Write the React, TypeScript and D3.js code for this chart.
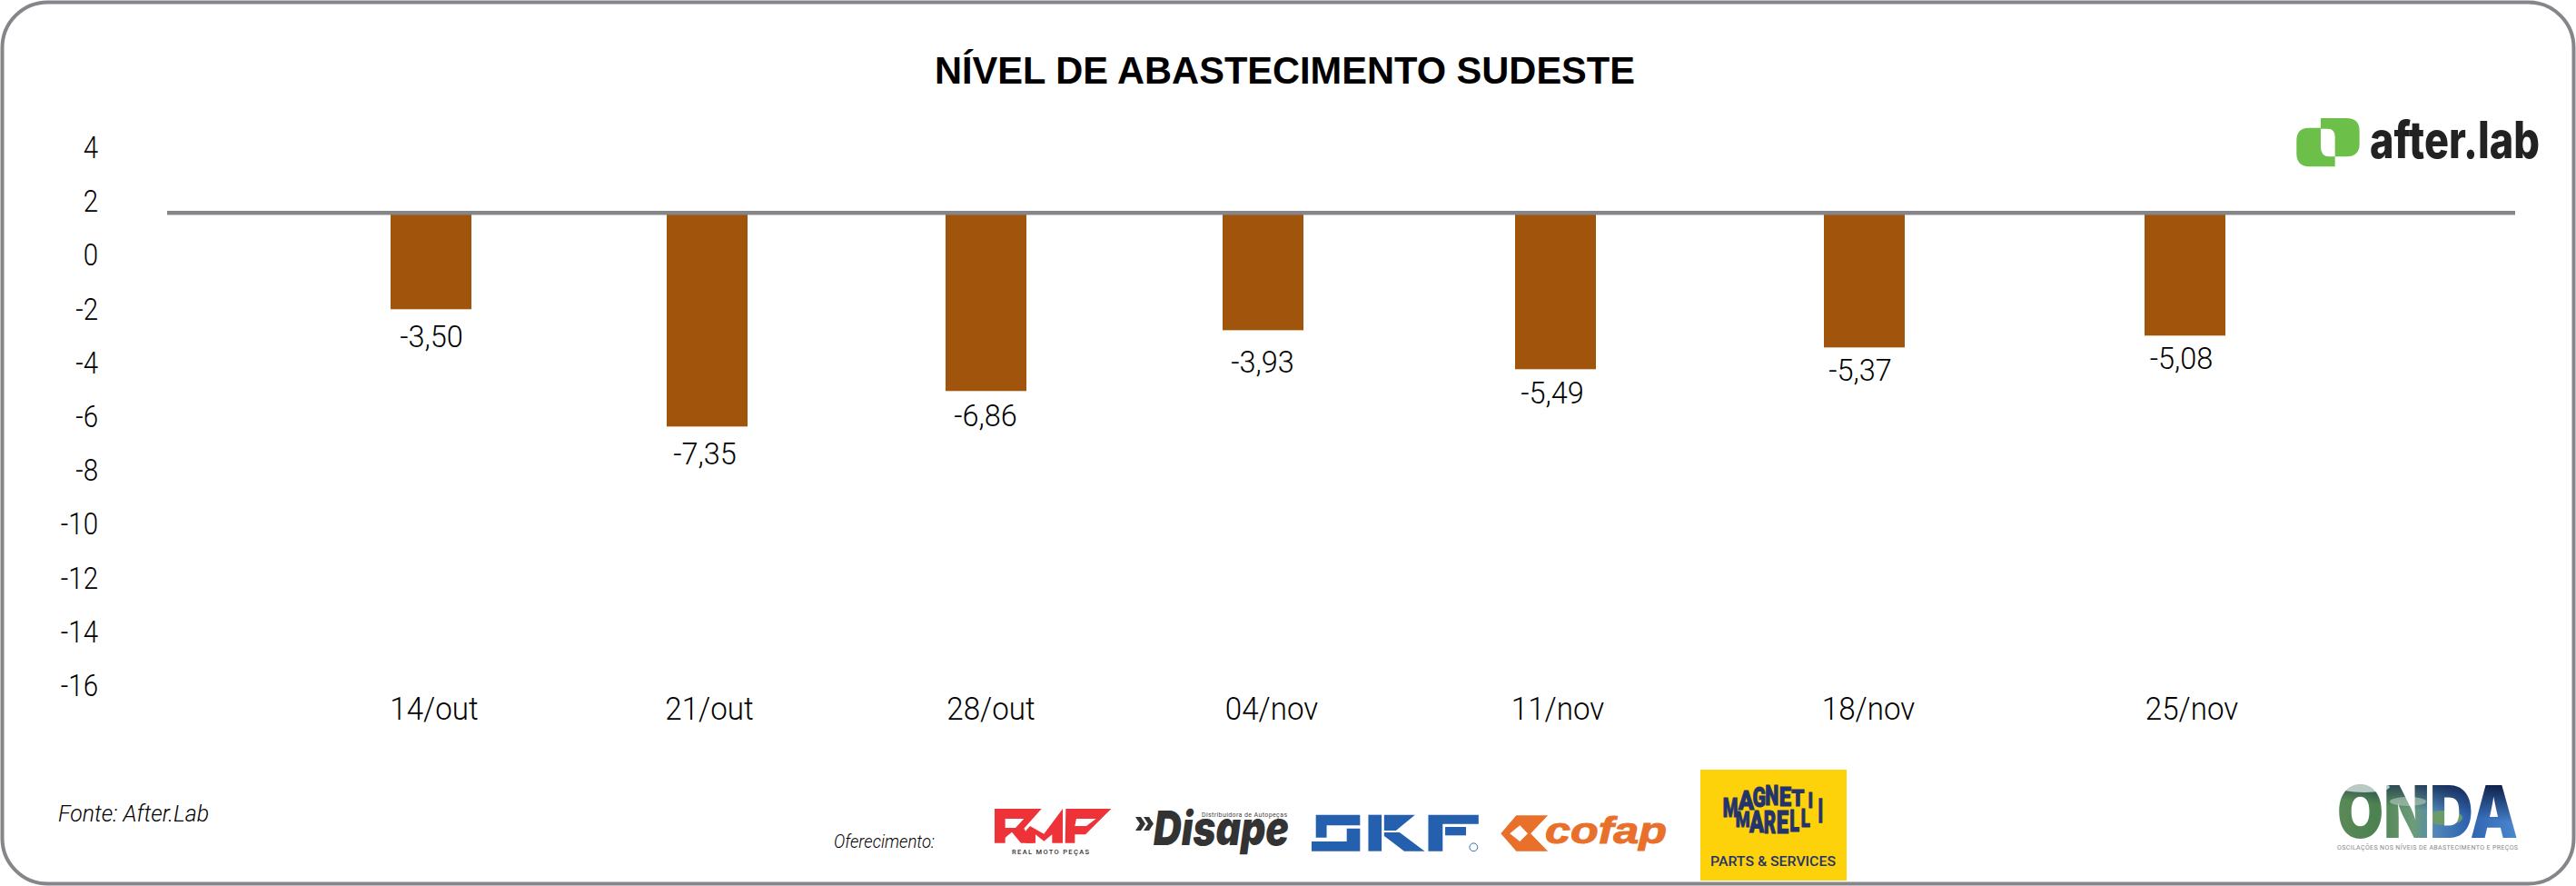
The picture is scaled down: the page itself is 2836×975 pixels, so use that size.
import React from "react";
import * as d3 from "d3";

const categories = ["14/out", "21/out", "28/out", "04/nov", "11/nov", "18/nov", "25/nov"];
// bar ends as they sit against the printed axis
const barEnds = [-1.99, -6.35, -5.03, -2.77, -4.22, -3.41, -2.97];
// values printed beside the bars
const barLabels = ["-3,50", "-7,35", "-6,86", "-3,93", "-5,49", "-5,37", "-5,08"];
const yTicks = [4, 2, 0, -2, -4, -6, -8, -10, -12, -14, -16];
const baselineValue = 1.59;

const barCentres = [474.5, 778.5, 1085.5, 1390.5, 1712.5, 2052.5, 2405.5];
const labelCentres = [475, 776, 1085, 1390, 1709, 2048, 2401.5];
const labelGaps = [30, 30, 27, 35, 26, 25, 25];
const tickCentres = [478, 781, 1091, 1400, 1715, 2057, 2413];

const W = 2836;
const H = 975;
const BAR_W = 89;
const GREY = "#85858a";
const BROWN = "#a1550c";

const y = d3.scaleLinear().domain([4, -16]).range([163, 755]);
const xBar = d3.scaleOrdinal<string, number>().domain(categories).range(barCentres);
const xLabel = d3.scaleOrdinal<string, number>().domain(categories).range(labelCentres);
const xTick = d3.scaleOrdinal<string, number>().domain(categories).range(tickCentres);

const LIGHT = "Roboto, sans-serif";

function Cond({ x, y: yy, size, sx = 0.78, anchor = "middle", children, fill = "#000", weight = 300 }: any) {
  return (
    <text
      transform={`translate(${x},${yy}) scale(${sx},1)`}
      textAnchor={anchor}
      fontFamily={LIGHT}
      fontWeight={weight}
      fontSize={size}
      fill={fill}
    >
      {children}
    </text>
  );
}

// letter, centre x, top, bottom, width — in 3x crop units of the logo
const magRow1 = [
  ["M", 60, 55, 118, 50], ["A", 112, 30, 92, 52], ["G", 155, 18, 84, 44], ["N", 197, 12, 78, 46],
  ["E", 241, 18, 80, 40], ["T", 283, 28, 82, 42], ["I", 325, 38, 88, 16],
] as const;
const magRow2 = [
  ["M", 101, 98, 150, 48], ["A", 147, 96, 168, 48], ["R", 190, 96, 172, 40], ["E", 232, 96, 172, 40],
  ["L", 272, 94, 165, 32], ["L", 308, 92, 150, 30], ["I", 358, 55, 135, 16],
] as const;
const glyphEm: Record<string, number> = { M: 0.88, A: 0.68, G: 0.69, N: 0.72, E: 0.56, T: 0.62, R: 0.65, L: 0.54, I: 0.29 };

function MagLetter({ l }: { l: readonly [string, number, number, number, number] }) {
  const [ch, zx, zt, zb, zw] = l;
  const px = 1885 + zx / 3;
  const top = 860 + zt / 3;
  const bot = 860 + zb / 3;
  const w = zw / 3;
  const capH = 0.711 * 20;
  return (
    <text
      transform={`translate(${px},${bot}) scale(${w / (glyphEm[ch] * 20)},${(bot - top) / capH})`}
      textAnchor="middle"
      fontFamily="Roboto, sans-serif"
      fontWeight={900}
      fontSize={20}
      fill="#25336d"
      stroke="#25336d"
      strokeWidth={0.7}
    >
      {ch}
    </text>
  );
}

export default function App() {
  return (
    <svg
      width={W}
      height={H}
      viewBox={`0 0 ${W} ${H}`}
      style={{ position: "absolute", left: 0, top: 0, background: "#fff" }}
    >
      <defs>
        <linearGradient id="onda" x1="0" x2="1" y1="0" y2="0">
          <stop offset="0" stopColor="#5b8a58" />
          <stop offset="0.22" stopColor="#4c8250" />
          <stop offset="0.42" stopColor="#6d9c78" />
          <stop offset="0.55" stopColor="#4f86b8" />
          <stop offset="0.72" stopColor="#2f62ae" />
          <stop offset="1" stopColor="#4b88d0" />
        </linearGradient>
        <linearGradient id="ondaTop" x1="0.3" x2="0.7" y1="1" y2="0">
          <stop offset="0.5" stopColor="#10224c" stopOpacity="0" />
          <stop offset="1" stopColor="#10224c" stopOpacity="1" />
        </linearGradient>
        <pattern id="ondaFill" patternUnits="userSpaceOnUse" x={2573} y={860} width={199} height={66}>
          <rect width={199} height={66} fill="url(#onda)" />
          <rect width={199} height={66} fill="url(#ondaTop)" />
          <ellipse cx={30} cy={6} rx={28} ry={6} fill="#b9c9c4" />
          <ellipse cx={78} cy={22} rx={20} ry={5} fill="#a9c4b4" opacity={0.7} />
          <ellipse cx={118} cy={40} rx={20} ry={8} fill="#6d9a6a" />
        </pattern>
      </defs>

      <rect x={2.5} y={2.5} width={W - 5} height={H - 5} rx={50} ry={50} fill="#fff" stroke={GREY} strokeWidth={4} />

      <text
        x={1029}
        y={92}
        textLength={771}
        lengthAdjust="spacingAndGlyphs"
        fontFamily="'Liberation Sans', Arial, sans-serif"
        fontWeight={700}
        fontSize={43}
        fill="#000"
      >
        NÍVEL DE ABASTECIMENTO SUDESTE
      </text>

      {yTicks.map((t) => (
        <Cond key={t} x={108} y={y(t) + 11} size={33.5} anchor="end" sx={0.88}>
          {String(t)}
        </Cond>
      ))}

      {categories.map((c, i) => (
        <rect
          key={c}
          x={xBar(c) - BAR_W / 2}
          y={y(baselineValue)}
          width={BAR_W}
          height={y(barEnds[i]) - y(baselineValue)}
          fill={BROWN}
        />
      ))}

      <line x1={184} x2={2769} y1={y(baselineValue)} y2={y(baselineValue)} stroke={GREY} strokeWidth={4.5} />

      {categories.map((c, i) => (
        <Cond key={c} x={xLabel(c)} y={y(barEnds[i]) + labelGaps[i] + 12} size={33.5} sx={0.97}>
          {barLabels[i]}
        </Cond>
      ))}

      {categories.map((c) => (
        <Cond key={c} x={xTick(c)} y={792} size={36} sx={0.92}>
          {c}
        </Cond>
      ))}

      <text
        x={64}
        y={904}
        textLength={166}
        lengthAdjust="spacingAndGlyphs"
        fontFamily={LIGHT}
        fontStyle="italic"
        fontWeight={300}
        fontSize={25}
        fill="#000"
      >
        Fonte: After.Lab
      </text>
      <text
        x={918}
        y={933}
        textLength={111}
        lengthAdjust="spacingAndGlyphs"
        fontFamily={LIGHT}
        fontStyle="italic"
        fontWeight={300}
        fontSize={20}
        fill="#000"
      >
        Oferecimento:
      </text>

      {/* after.lab */}
      <g transform="translate(2450,100) scale(0.3333)" fill="#6cc04a">
        <path d="M315 90 H400 Q443 90 443 133 V175 Q443 217 400 217 H362 V152 Q362 125 338 125 H315 Z" />
        <path d="M315 122 H275 Q235 122 235 165 V207 Q235 250 280 250 H362 V217 H345 Q315 217 315 185 Z" />
      </g>
      <text
        x={2609}
        y={174}
        textLength={187}
        lengthAdjust="spacingAndGlyphs"
        fontFamily="Inter, sans-serif"
        fontWeight={800}
        fontSize={56}
        fill="#222"
      >
        after.lab
      </text>

      {/* RMP */}
      <g transform="translate(1090,885) scale(0.3333)" fill="#ee3338">
        <path
          fillRule="evenodd"
          d="M15 15 H170 L112 80 L142 128 H102 L72 92 L50 110 V128 H15 Z M50 48 V78 H84 L112 48 Z"
        />
        <path d="M240 15 V128 H205 V100 L178 122 L150 100 V128 H118 V88 L132 72 L178 98 Z" />
        <path
          fillRule="evenodd"
          d="M250 15 H400 L315 100 H280 V128 H248 Z M285 48 L280 72 H318 L350 48 Z"
        />
      </g>
      <text
        x={1114}
        y={939.5}
        textLength={85}
        lengthAdjust="spacing"
        fontFamily="Roboto, sans-serif"
        fontSize={7.5}
        fontWeight={500}
        fill="#333"
      >
        REAL MOTO PEÇAS
      </text>

      {/* Disape */}
      <path
        d="M1250 899 L1256 899 L1261 906.5 L1256 914 L1250 914 L1255 906.5 Z M1259 899 L1265 899 L1270 906.5 L1265 914 L1259 914 L1264 906.5 Z"
        fill="#333"
      />
      <text
        x={1270}
        y={930}
        textLength={149}
        lengthAdjust="spacingAndGlyphs"
        fontFamily="Inter, sans-serif"
        fontWeight={900}
        fontStyle="italic"
        fontSize={52}
        fill="#333"
      >
        Disape
      </text>
      <text
        x={1323}
        y={899}
        textLength={94}
        lengthAdjust="spacing"
        fontFamily="Roboto, sans-serif"
        fontSize={7}
        fill="#444"
      >
        Distribuidora de Autopeças
      </text>

      {/* SKF */}
      <g transform="translate(1440,840) scale(0.3954,0.3333)" fill="#2460ae">
        <path d="M22 170 H145 V205 H52 V245 H22 Z" />
        <path d="M108 215 H145 V290 H10 V258 H108 Z" />
        <path d="M168 170 H205 V290 H168 Z" />
        <path d="M212 170 H298 L245 222 H212 Z" />
        <path d="M212 228 H255 L325 290 H268 L212 240 Z" />
        <path d="M335 170 H475 V200 H375 V290 H335 Z" />
        <path d="M382 210 H440 V238 H382 Z" />
      </g>
      <circle cx={1622.3} cy={932.3} r={4.4} fill="none" stroke="#2460ae" strokeWidth={0.9} />

      {/* cofap */}
      <g transform="translate(1440,840) scale(0.3954,0.3333)">
        <path d="M580 172 H668 L620 232 L668 290 H580 L537 232 Z" fill="#e8702a" />
        <path d="M562 232 L590 205 L612 232 L590 258 Z" fill="#fff" />
      </g>
      <text
        x={1701}
        y={928}
        textLength={134}
        lengthAdjust="spacingAndGlyphs"
        fontFamily="'Liberation Sans', sans-serif"
        fontWeight={700}
        fontStyle="italic"
        fontSize={40}
        fill="#e8702a"
        stroke="#e8702a"
        strokeWidth={1}
      >
        cofap
      </text>

      {/* Magneti Marelli */}
      <rect x={1872} y={847} width={161} height={122} fill="#fdd20a" />
      {magRow1.map((l, i) => (
        <MagLetter key={"a" + i} l={l} />
      ))}
      {magRow2.map((l, i) => (
        <MagLetter key={"b" + i} l={l} />
      ))}
      <text
        x={1883}
        y={953}
        textLength={138}
        lengthAdjust="spacingAndGlyphs"
        fontFamily="Roboto, sans-serif"
        fontWeight={500}
        fontSize={15}
        fill="#25336d"
      >
        PARTS &amp; SERVICES
      </text>

      {/* ONDA */}
      <text
        x={2573}
        y={922}
        textLength={199}
        lengthAdjust="spacingAndGlyphs"
        fontFamily="Inter, sans-serif"
        fontWeight={900}
        fontSize={80}
        fill="url(#ondaFill)"
      >
        ONDA
      </text>
      <text
        x={2573}
        y={934.5}
        textLength={199}
        lengthAdjust="spacing"
        fontFamily="Roboto, sans-serif"
        fontSize={7}
        fill="#888"
      >
        OSCILAÇÕES NOS NÍVEIS DE ABASTECIMENTO E PREÇOS
      </text>
    </svg>
  );
}
